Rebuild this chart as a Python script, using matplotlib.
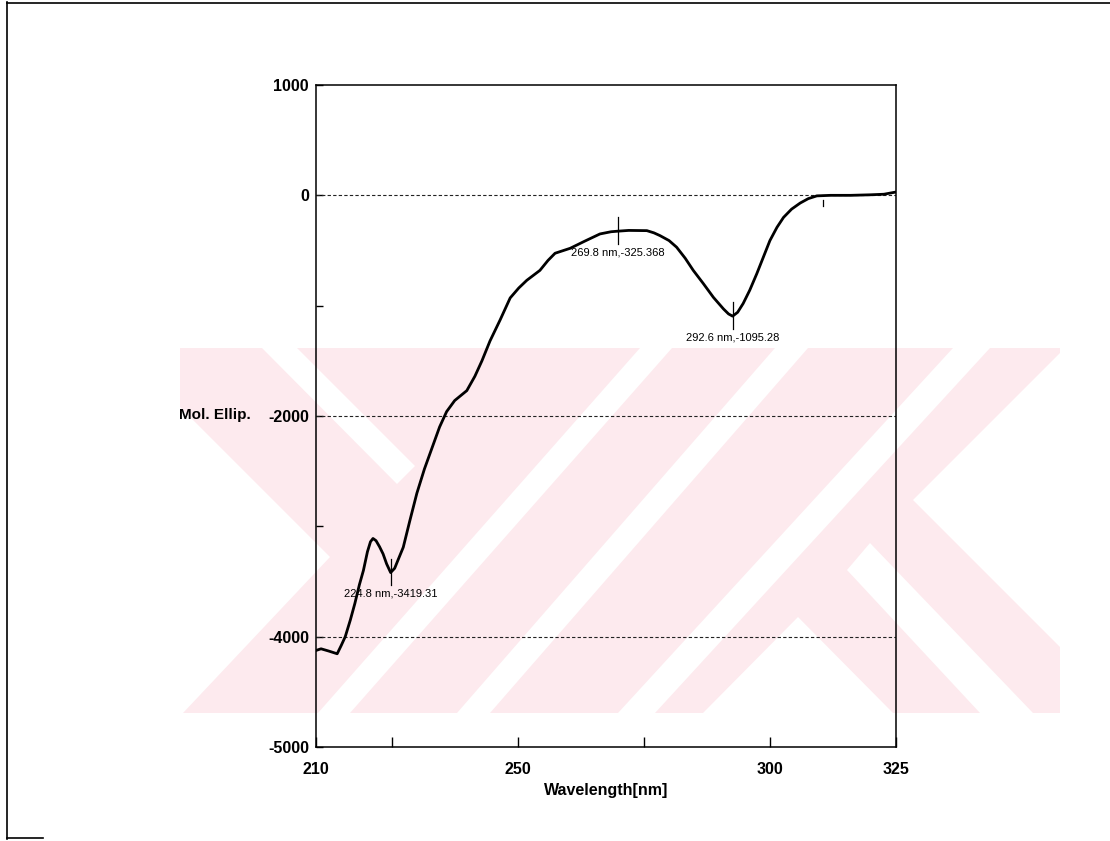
import numpy as np
import matplotlib.pyplot as plt
from matplotlib.patches import Polygon, Rectangle
from matplotlib.lines import Line2D

# CD spectrum, molar ellipticity vs wavelength
wavelength = [210.0, 211.0, 212.5, 214.2, 215.0, 215.8, 216.8, 217.7, 218.6, 219.4,
              220.2, 220.8, 221.3, 221.9, 222.6, 223.3, 224.0, 224.8, 225.6, 226.4,
              227.3, 228.6, 230.0, 231.5, 233.0, 234.5, 235.9, 237.5, 239.9, 241.5,
              242.9, 244.5, 246.5, 248.5, 250.2, 251.8, 254.4, 256.0, 257.4, 260.4,
              263.3, 266.3, 268.5, 269.8, 272.0, 275.6, 277.0, 278.2, 280.0, 281.5,
              283.2, 284.8, 286.8, 288.8, 290.8, 291.8, 292.6, 293.6, 294.7, 296.0,
              297.4, 298.7, 300.0, 301.4, 302.7, 304.3, 306.0, 307.6, 309.3, 312.0,
              316.0, 320.0, 322.6, 325.0]
ellip = [-4125, -4110, -4130, -4155, -4080, -4000, -3850, -3700, -3530, -3400,
         -3230, -3140, -3110, -3130, -3185, -3250, -3340, -3419, -3380, -3290,
         -3190, -2950, -2700, -2480, -2290, -2100, -1960, -1860, -1770, -1640,
         -1500, -1320, -1130, -930, -840, -770, -680, -590, -525, -480,
         -415, -350, -330, -325, -318, -320, -340, -365, -410, -470,
         -570, -680, -800, -925, -1030, -1075, -1095, -1060, -980, -860,
         -710, -560, -410, -290, -200, -125, -70, -30, -5, 0,
         0, 5, 10, 30]

peak_nm = [224.8, 269.8, 292.6]
peak_val = [-3419.31, -325.368, -1095.28]
cursor_nm = 310.5

xticks = [210, 225, 250, 275, 300, 325]
xticklabels = ['210', '', '250', '', '300', '325']
yticks = [1000, 0, -1000, -2000, -3000, -4000, -5000]
yticklabels = ['1000', '0', '', '-2000', '', '-4000', '-5000']
grid_levels = [0, -2000, -4000]

W, H = 1110, 841
plt.rcParams['font.family'] = ['Liberation Sans', 'DejaVu Sans']
fig = plt.figure(figsize=(W / 100, H / 100), dpi=100)


def px(x, y):
    return (x / W, 1 - y / H)


# pale watermark band behind the plot (pixel geometry, y down)
pink = '#fdeaee'
top, bot = 348, 713
band = Rectangle(px(180, bot), 880 / W, (bot - top) / H, transform=fig.transFigure,
                 facecolor=pink, edgecolor='none', zorder=0)
fig.add_artist(band)


def slash(a, b, d):
    # white "/" stripe: x from a to b on the top edge, shifted left by d at the bottom
    return [(a, top), (b, top), (b - d, bot), (a - d, bot)]


white_shapes = [
    [(150, 377), (330, 557), (183, bot), (150, bot)],
    [(262, top), (297, top), (415, 466), (397, 484)],
    slash(640, 672, 322),
    slash(775, 808, 318),
    slash(953, 990, 335),
    [(703, bot), (798, 617), (893, bot)],
    [(913, 500), (1065, top), (1100, top), (1100, 687)],
    [(870, 543), (847, 570), (980, bot), (1033, bot)],
]
for shp in white_shapes:
    poly = Polygon([px(*p) for p in shp], closed=True, transform=fig.transFigure,
                   facecolor='white', edgecolor='none', zorder=0)
    poly.set_clip_path(band)
    fig.add_artist(poly)

# scanned page border
for seg in [((7, 7), (2, 839)), ((7, 1110), (2.5, 2.5)), ((7, 43), (838, 838))]:
    (x0, x1), (y0, y1) = seg
    fig.add_artist(Line2D([x0 / W, x1 / W], [1 - y0 / H, 1 - y1 / H],
                          transform=fig.transFigure, color='black', lw=1.2))

ax = fig.add_axes([316 / W, 1 - 747 / H, 580 / W, 662 / H])
ax.patch.set_alpha(0)
ax.plot(wavelength, ellip, color='black', lw=2.0, zorder=3)

for lvl in grid_levels:
    ax.axhline(lvl, color='#222222', lw=0.8, ls=(0, (3, 2)), zorder=2)

for x, v in zip(peak_nm, peak_val):
    ax.plot([x, x], [v - 115, v + 125], color='black', lw=0.9, zorder=4)
    ax.annotate(f'{x} nm,{v}', (x, v), xytext=(0, -15), textcoords='offset points',
                ha='center', va='center', fontsize=8)
ax.plot([cursor_nm, cursor_nm], [-40, -100], color='black', lw=0.9, zorder=4)

ax.set_xlim(210, 325)
ax.set_ylim(-5000, 1000)
ax.set_xticks(xticks)
ax.set_xticklabels(xticklabels)
ax.set_yticks(yticks)
ax.set_yticklabels(yticklabels)
ax.tick_params(axis='x', direction='in', length=7, width=1, pad=11, labelsize=11.5)
ax.tick_params(axis='y', direction='in', length=5, width=1, pad=5, labelsize=11.5)
for lab in ax.get_xticklabels() + ax.get_yticklabels():
    lab.set_fontweight('bold')
for sp in ax.spines.values():
    sp.set_linewidth(1.1)

fig.text(606 / W, 1 - 790 / H, 'Wavelength[nm]', ha='center', va='center',
         fontsize=11.5, fontweight='bold')
fig.text(251 / W, 1 - 415 / H, 'Mol. Ellip.', ha='right', va='center',
         fontsize=11, fontweight='bold')

fig.savefig('out.png', dpi=100)
